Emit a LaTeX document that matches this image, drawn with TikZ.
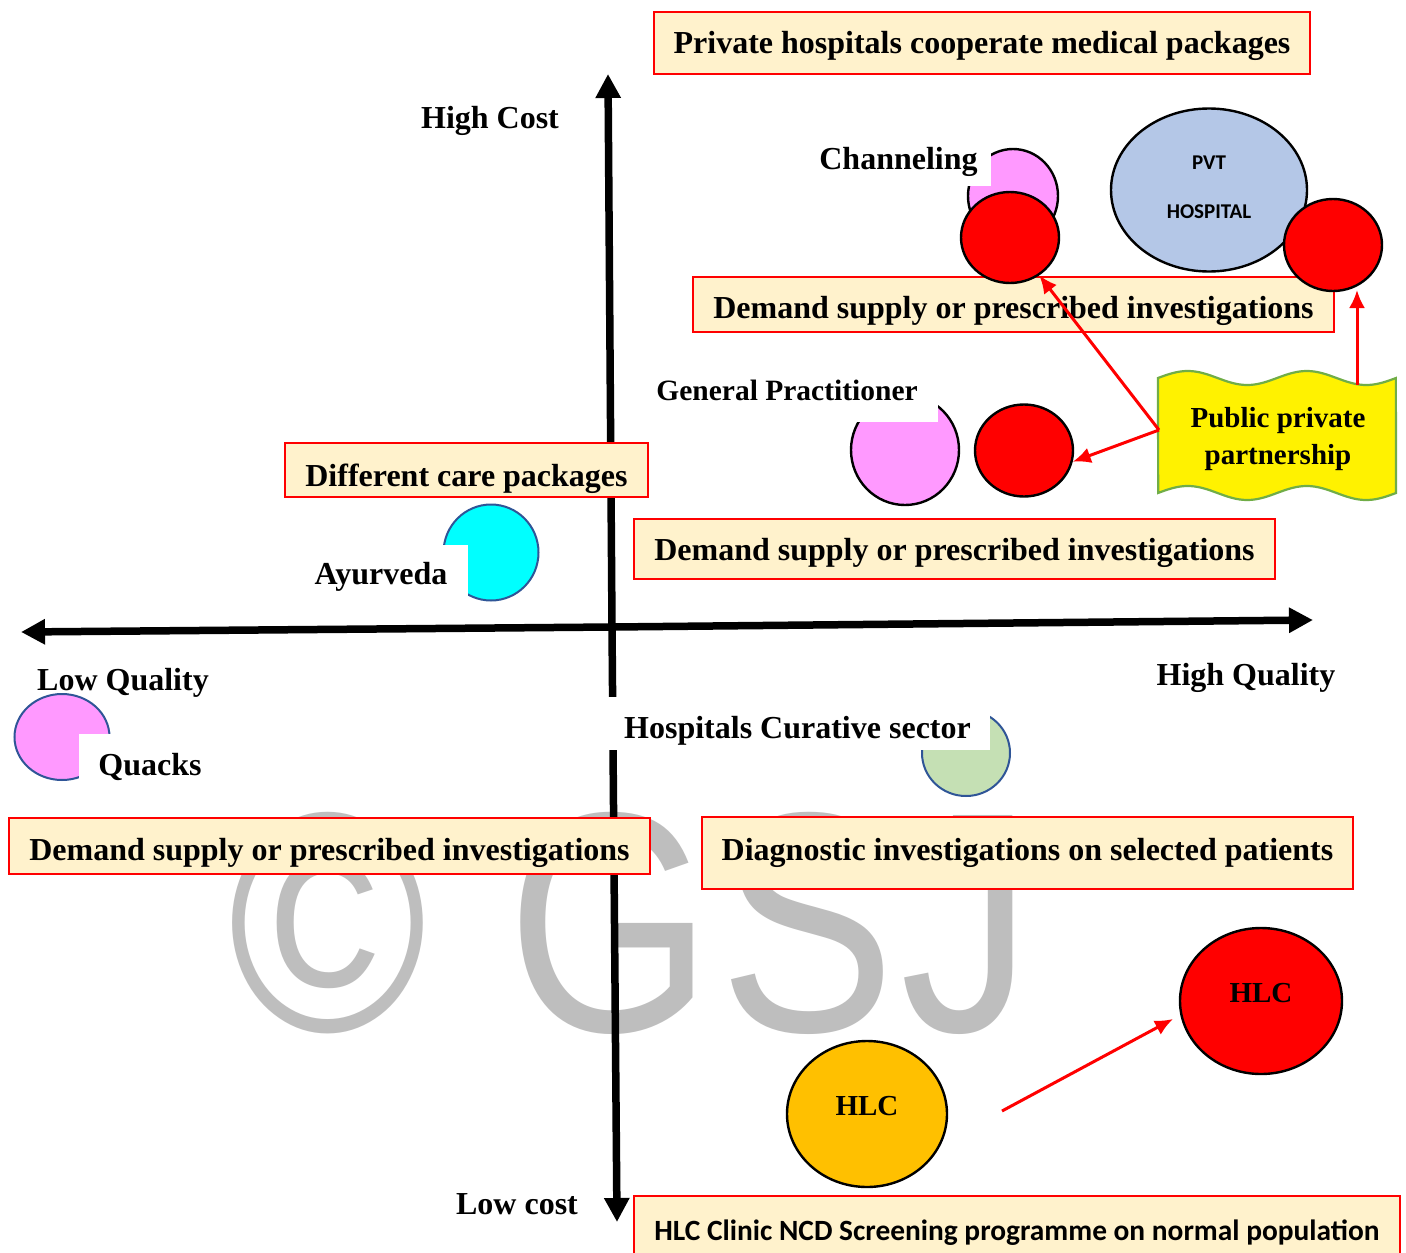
\documentclass[tikz,border=0pt]{standalone}
\usepackage{fontspec}
\setmainfont{Liberation Serif}
\newfontfamily\carl{Carlito}
\newfontfamily\wmfont{Liberation Sans}
\usetikzlibrary{arrows.meta,calc,shapes.geometric}
\definecolor{cream}{HTML}{FFF2CC}
\definecolor{pinkc}{HTML}{FF99FF}
\definecolor{cyanc}{HTML}{00FFFF}
\definecolor{greenc}{HTML}{C5E0B4}
\definecolor{pvtc}{HTML}{B4C7E7}
\definecolor{orangec}{HTML}{FFC000}
\definecolor{bord}{HTML}{2F5597}
\definecolor{wavebord}{HTML}{70AD47}
\definecolor{wmgray}{RGB}{190,190,190}
\newcommand{\mytb}{\bfseries\fontsize{32}{38}\selectfont}
\newcommand{\mytbs}{\bfseries\fontsize{29}{37}\selectfont}
\begin{document}
\begin{tikzpicture}[x=1pt,y=-1pt,
  bx/.style={draw=red, fill=cream, line width=1.4pt, inner sep=0pt},
  bxt/.style={inner sep=0pt, font=\mytb},
  lab/.style={fill=white, inner sep=0pt, font=\mytb},
  plab/.style={inner sep=0pt, font=\mytb},
  blob/.style={ellipse, draw=black, line width=2.4pt, inner sep=0pt},
  bblob/.style={ellipse, draw=bord, line width=2pt, inner sep=0pt},
  arr/.style={draw=red, line width=3pt, -{Latex[length=18pt,width=16pt]}},
  axisl/.style={line width=7.5pt, -{Triangle[length=24pt,width=24pt]}},
  wm/.style={text=wmgray, inner sep=0pt, anchor=base, font=\wmfont\fontsize{314}{314}\selectfont},
]
\fill[white] (0,0) rectangle (1406,1253);
\useasboundingbox (0,0) rectangle (1406,1253);

% watermark
\node[wm] (wm1) at (327.5,1031) {\scalebox{0.86}[1]{©}};
\node[wm] (wm2) at (610,1031) {\scalebox{0.84}[1]{G}};
\node[wm] (wm3) at (807.5,1031) {\scalebox{0.84}[1]{S}};
\node[wm] (wm4) at (966,1031) {\scalebox{0.84}[1]{J}};

% axes
\coordinate (axL) at (21,632);
\coordinate (axR) at (1313,620);
\coordinate (axT) at (608,74);
\coordinate (axB) at (617,1222);
\coordinate (axO) at (612,627);
\draw[axisl] (axO) -- (axL);
\draw[axisl] (axO) -- (axR);
\draw[axisl] (axO) -- (axT);
\draw[axisl] (axO) -- (axB);

% boxes
\node[bx, minimum width=656pt, minimum height=62pt] (b1) at (982,43) {};
\node[bxt] (b1t) at ($(b1)+(0,3)$) {Private hospitals cooperate medical packages};
\node[bx, minimum width=641pt, minimum height=55pt] (b2) at (1013.5,304.5) {};
\node[bxt] (b2t) at ($(b2)+(0,6)$) {Demand supply or prescribed investigations};
\node[bx, minimum width=363pt, minimum height=54pt] (b3) at (466.5,470) {};
\node[bxt] (b3t) at ($(b3)+(0,9)$) {Different care packages};
\node[bx, minimum width=641pt, minimum height=60pt] (b4) at (954.5,549) {};
\node[bxt] (b4t) at ($(b4)+(0,4)$) {Demand supply or prescribed investigations};
\node[bx, minimum width=641pt, minimum height=56pt] (b5) at (329.5,846) {};
\node[bxt] (b5t) at ($(b5)+(0,7)$) {Demand supply or prescribed investigations};
\node[bx, minimum width=651pt, minimum height=72pt] (b6) at (1027.5,853) {};
\node[bxt] (b6t) at ($(b6)+(0,0)$) {Diagnostic investigations on selected patients};
\node[bx, minimum width=766pt, minimum height=70pt] (b7) at (1017,1231) {};
\node[bxt, font=\carl\bfseries\fontsize{29.4}{34}\selectfont] (b7t) at ($(b7)+(0,2)$) {HLC Clinic NCD Screening programme on normal population};

% circles
\node[blob, fill=pinkc, minimum width=90pt, minimum height=94pt] (chP) at (1013,196) {};
\node[blob, fill=red, minimum width=98pt, minimum height=91pt] (chR) at (1010,237.5) {};
\node[blob, fill=pvtc, minimum width=196pt, minimum height=163pt] (pvt) at (1209,190) {};
\node[blob, fill=red, minimum width=98pt, minimum height=92pt] (r2) at (1333,245) {};
\node[blob, fill=pinkc, minimum width=108pt, minimum height=110pt] (gpP) at (905,450) {};
\node[blob, fill=red, minimum width=98pt, minimum height=92pt] (gpR) at (1024,450.5) {};
\node[bblob, fill=cyanc, minimum width=95pt, minimum height=96pt] (ayu) at (491,552.5) {};
\node[bblob, fill=pinkc, minimum width=95pt, minimum height=86pt] (qua) at (62,737) {};
\node[bblob, fill=greenc, minimum width=88pt, minimum height=86pt] (grn) at (966,753) {};
\node[blob, fill=orangec, minimum width=160pt, minimum height=146pt] (hlc1) at (867,1114) {};
\node[blob, fill=red, minimum width=162pt, minimum height=146pt] (hlc2) at (1261,1001) {};

% texts in circles
\node[font=\carl\bfseries\fontsize{21}{25}\selectfont, inner sep=0pt] (pvtT1) at (1209,163) {PVT};
\node[font=\carl\bfseries\fontsize{21}{25}\selectfont, inner sep=0pt] (pvtT2) at (1209,212) {HOSPITAL};
\node[font=\mytbs, inner sep=0pt] (hlcT1) at (867,1106) {HLC};
\node[font=\mytbs, inner sep=0pt] (hlcT2) at (1261,993) {HLC};

% labels
\node[plab] (lHC) at (490,121) {High Cost};
\node[lab, minimum width=185pt, minimum height=48pt] (lCh) at (898.5,162) {Channeling};
\node[lab, minimum width=302pt, minimum height=64pt, font=\bfseries\fontsize{29.5}{35}\selectfont] (lGP) at (787,390) {General Practitioner};
\node[lab, minimum width=174pt, minimum height=64pt] (lAy) at (381,577) {Ayurveda};
\node[plab] (lLQ) at (123,683) {Low Quality};
\node[lab, minimum width=142pt, minimum height=66pt] (lQu) at (150,767) {Quacks};
\node[plab] (lHQ) at (1246,678) {High Quality};
\node[fill=white, inner sep=0pt, minimum width=385pt, minimum height=53pt] (lHosBg) at (797.5,723.5) {};
\node[bxt] (lHos) at ($(lHosBg)+(0,7)$) {Hospitals Curative sector};
\node[plab] (lLC) at (517,1204) {Low cost};

% public private partnership
\draw[draw=wavebord, fill=yellow, line width=2.2pt]
  plot[domain=0:1, samples=80, variable=\t] ({1158+238*\t},{378-7*sin(720*\t)})
  -- plot[domain=0:1, samples=80, variable=\t] ({1396-238*\t},{493+7*sin(720*\t)})
  -- cycle;
\node[font=\mytbs, align=center, inner sep=0pt] (ppp) at (1278,439.5) {Public private\\partnership};

% arrows
\coordinate (pppW) at (1159,430);
\coordinate (pppTop) at (1357,385);
\coordinate (r2tip) at (1357,290);
\coordinate (hA) at (1002,1111);
\coordinate (hB) at (1173,1019);
\draw[arr] (pppW) -- (chR);
\draw[arr] (pppW) -- (gpR.-13);
\draw[arr] (pppTop) -- (r2tip);
\draw[arr] (hA) -- (hB);
\end{tikzpicture}
\end{document}
